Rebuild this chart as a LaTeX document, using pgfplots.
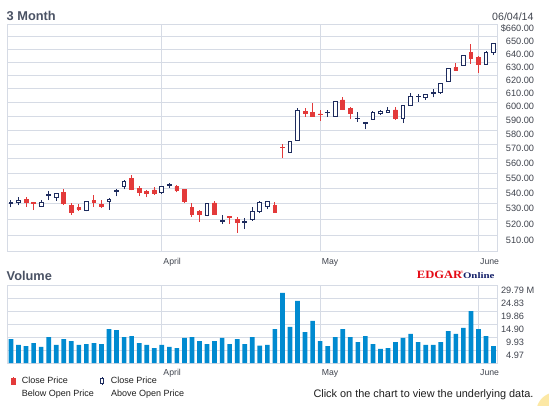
\documentclass[border=0pt]{standalone}
\usepackage{fontspec}
\setmainfont{Liberation Sans}
\newfontfamily\logofont{Liberation Serif}
\usepackage{graphicx}
\usepackage{pgfplots}
\usepackage{pgfplotstable}
\pgfplotsset{compat=1.18}

\definecolor{gridc}{RGB}{214,219,229}
\definecolor{cred}{RGB}{227,58,58}
\definecolor{cnavy}{RGB}{30,44,94}
\definecolor{vblue}{RGB}{0,138,208}
\definecolor{titlec}{RGB}{74,82,100}
\definecolor{labc}{RGB}{64,68,78}
\definecolor{txtc}{RGB}{30,30,30}
\definecolor{edgarred}{RGB}{228,10,20}
\definecolor{onlinec}{RGB}{20,32,105}
\definecolor{yellowc}{RGB}{252,232,165}

% close price below open price (red)
\pgfplotstableread{
i open high low close
2 532.8 534.4 528.1 530.8
3 531.1 531.5 526.0 530.5
7 537.4 539.6 529.2 530.6
8 528.8 530.9 523.0 524.7
9 527.7 529.9 525.8 526.7
11 532.3 536.0 528.0 531.3
12 529.9 532.5 527.3 528.7
16 546.5 549.0 538.9 539.8
17 540.0 541.5 535.1 537.5
18 538.3 538.9 534.3 536.9
19 539.2 540.8 535.9 536.7
22 541.4 542.5 537.6 538.8
23 539.8 540.0 530.6 531.8
24 528.0 530.9 521.9 523.5
25 525.2 526.1 518.7 523.4
27 530.7 532.2 523.2 523.5
29 521.9 522.2 517.2 521.7
30 520.3 521.6 511.8 518.0
35 529.1 531.1 524.5 524.8
36 568.2 570.0 560.7 567.8
39 593.7 596.0 589.5 592.3
40 592.6 599.4 589.8 590.1
41 591.6 594.8 586.4 591.2
44 601.8 604.2 594.4 595.0
45 595.3 597.0 587.7 592.3
51 594.5 596.6 587.3 588.5
59 626.0 629.5 623.8 624.0
61 638.0 644.1 628.9 633.0
62 634.0 634.9 622.3 628.8
}\downtab

% close price above open price (navy, hollow)
\pgfplotstableread{
i open high low close
0 530.6 532.6 527.8 531.2
1 530.9 534.7 529.1 532.3
4 528.5 532.6 528.3 531.0
5 535.4 538.5 532.5 536.1
6 534.5 537.3 532.0 536.6
10 525.9 532.0 525.2 531.4
13 531.9 533.7 526.3 532.6
14 538.4 540.0 535.0 539.0
15 541.5 545.5 539.6 545.0
20 537.8 541.9 536.8 541.6
21 542.4 543.5 540.3 542.6
26 522.6 530.5 522.0 530.3
28 519.0 522.8 517.1 519.6
31 518.1 521.1 514.0 519.0
32 520.0 527.8 519.2 524.9
33 525.3 532.1 524.0 531.2
34 528.3 531.8 526.5 531.7
37 564.5 572.0 564.0 571.9
38 572.8 595.7 572.6 594.1
42 592.3 594.2 589.7 592.6
43 590.1 601.0 590.0 600.9
46 588.3 593.0 586.0 588.6
47 584.5 586.0 580.5 585.3
48 587.5 593.6 587.4 592.8
49 592.0 594.2 590.8 593.7
50 592.4 597.0 592.2 593.8
52 588.6 597.5 585.0 597.4
53 597.6 607.0 597.3 604.6
54 604.5 606.2 600.5 604.7
55 603.8 606.4 602.0 606.2
56 606.4 609.6 603.8 607.0
57 607.2 614.5 606.3 614.0
58 615.8 625.8 615.3 625.5
60 627.9 636.0 627.7 635.2
63 628.5 638.7 628.3 637.5
64 637.4 645.3 636.1 644.8
}\uptab

% volume (millions)
\pgfplotstableread{
i vol
0 9.25
1 6.94
2 6.55
3 7.70
4 6.17
5 10.0
6 6.94
7 9.25
8 8.48
9 6.94
10 7.32
11 7.70
12 7.32
13 13.1
14 12.7
15 10.0
16 10.4
17 7.70
18 6.94
19 5.78
20 6.94
21 6.17
22 5.78
23 9.64
24 10.0
25 8.48
26 7.32
27 8.48
28 9.64
29 7.32
30 9.25
31 7.32
32 10.0
33 6.70
34 6.94
35 13.1
36 27.0
37 13.9
38 23.9
39 11.9
40 16.2
41 8.48
42 6.55
43 10.0
44 13.1
45 10.0
46 8.09
47 10.4
48 7.32
49 5.40
50 5.78
51 8.09
52 9.64
53 11.2
54 8.09
55 6.94
56 6.94
57 8.09
58 12.3
59 11.2
60 13.5
61 20.0
62 13.1
63 10.4
64 6.55
}\voltab

\pgfplotsset{
  panel/.style={scale only axis, width=490.7pt, xmin=-0.53, xmax=64.55, clip=true},
  pricebase/.style={panel, height=227.4pt, at={(7pt,-251.7pt)}, anchor=south west,
    ymin=6.214608, ymax=6.492240},
  framed/.style={
    axis line style={draw=gridc, line width=1pt},
    grid=major, major grid style={draw=gridc, line width=1pt},
    major tick length=0pt, tick style={draw=none},
    xtick={20,41,62}, xticklabels={April,May,June},
    xticklabel style={anchor=base west, inner sep=0pt, xshift=1.5pt,
      font=\fontsize{8.7}{10}\selectfont, text=labc},
    yticklabel pos=right,
    yticklabel style={anchor=base east, inner sep=0pt,
      font=\fontsize{9.2}{11}\selectfont, text=labc},
  },
}

\begin{document}
\begin{tikzpicture}
\useasboundingbox (0pt,0pt) rectangle (549pt,-405pt);

% ---------- price panel: grid, labels, wicks ----------
\begin{axis}[pricebase, framed,
  xticklabel style={yshift=-12.6pt},
  ytick={6.234411,6.253829,6.272877,6.291569,6.309918,6.327937,6.345636,6.363028,
         6.380123,6.396930,6.413459,6.429719,6.445720,6.461468,6.476972,6.492240},
  yticklabels={510.00,520.00,530.00,540.00,550.00,560.00,570.00,580.00,
               590.00,600.00,610.00,620.00,630.00,640.00,650.00,\$660.00},
  yticklabel style={xshift=36.6pt, yshift=-7.6pt},
]
\addplot[draw=none, forget plot,
  error bars/.cd, y dir=plus, y explicit, error mark=none,
  error bar style={draw=cred, solid, line width=1pt}]
  table[x=i, y expr={ln(\thisrow{low})}, y error expr={ln(\thisrow{high})-ln(\thisrow{low})}]{\downtab};
\addplot[draw=none, forget plot,
  error bars/.cd, y dir=plus, y explicit, error mark=none,
  error bar style={draw=cnavy, solid, line width=1pt}]
  table[x=i, y expr={ln(\thisrow{low})}, y error expr={ln(\thisrow{high})-ln(\thisrow{low})}]{\uptab};
\end{axis}

% ---------- red bodies ----------
\begin{axis}[pricebase, hide axis, ybar stacked, bar width=0.5]
\addplot[draw=none, fill=none] table[x=i, y expr={ln(\thisrow{close})}]{\downtab};
\addplot[draw=cred, fill=cred, line width=0.8pt]
  table[x=i, y expr={ln(\thisrow{open})-ln(\thisrow{close})}]{\downtab};
\end{axis}

% ---------- hollow navy bodies ----------
\begin{axis}[pricebase, hide axis, ybar stacked, bar width=0.5]
\addplot[draw=none, fill=none] table[x=i, y expr={ln(\thisrow{open})}]{\uptab};
\addplot[draw=cnavy, fill=white, line width=1pt]
  table[x=i, y expr={ln(\thisrow{close})-ln(\thisrow{open})}]{\uptab};
\end{axis}

% ---------- volume panel ----------
\begin{axis}[panel, framed, height=77.3pt, at={(7pt,-363pt)}, anchor=south west,
  ymin=0, ymax=29.79,
  xticklabel style={yshift=-12.2pt},
  ytick={4.965,9.93,14.895,19.86,24.825,29.79},
  yticklabels={4.97,9.93,14.90,19.86,24.83,29.79\rlap{\ M}},
  yticklabel style={xshift=26.6pt, yshift=-8pt},
  legend cell align=left,
  legend style={at={(axis description cs:0.00785,-0.2342)}, anchor=west,
    draw=none, fill=none, inner sep=0pt, outer sep=0pt,
    font=\fontsize{9}{10}\selectfont, text=txtc, legend columns=2,
    nodes={inner sep=0pt, anchor=west},
    /tikz/every odd column/.append style={column sep=6.6pt},
    /tikz/every even column/.append style={column sep=32pt}},
]
\addplot[ybar, bar width=0.62, fill=vblue, draw=none, forget plot]
  table[x=i, y=vol]{\voltab};
\addlegendimage{legend image code/.code={
  \path (-2.05pt,0pt) -- (2.05pt,0pt);
  \draw[cred, line width=1pt] (0pt,-4pt) -- (0pt,4pt);
  \fill[cred] (-1.7pt,-2.6pt) rectangle (1.7pt,2.6pt);}}
\addlegendentry{Close Price}
\addlegendimage{legend image code/.code={
  \draw[cnavy, line width=1pt] (0pt,-4pt) -- (0pt,4pt);
  \draw[cnavy, line width=1pt, fill=white] (-1.7pt,-2.3pt) rectangle (1.7pt,2.3pt);}}
\addlegendentry{Close Price}
\end{axis}

% ---------- texts ----------
\node[anchor=base west, inner sep=0pt, text=titlec, font=\bfseries\fontsize{12.8}{14}\selectfont]
  at (6.5pt,-20.3pt) {3 Month};
\node[anchor=base east, inner sep=0pt, text=labc, font=\fontsize{10.6}{12}\selectfont]
  at (533.7pt,-20.7pt) {06/04/14};
\node[anchor=base west, inner sep=0pt, text=titlec, font=\bfseries\fontsize{12.8}{14}\selectfont]
  at (6.5pt,-280.7pt) {Volume};
\node[anchor=base west, inner sep=0pt] at (416.7pt,-278.3pt)
  {\scalebox{1.12}[1]{\logofont\bfseries\fontsize{11.2}{12}\selectfont\color{edgarred}EDGAR}};
\node[anchor=base west, inner sep=0pt, text=edgarred, font=\logofont\fontsize{4}{4}\selectfont]
  at (460.2pt,-273.6pt) {®};
\node[anchor=base west, inner sep=0pt] at (462.8pt,-278.3pt)
  {\scalebox{1.28}[1]{\logofont\bfseries\fontsize{8.5}{10}\selectfont\color{onlinec}Online}};
\node[anchor=base west, inner sep=0pt, text=txtc, font=\fontsize{9}{10}\selectfont]
  at (21.7pt,-396.4pt) {Below Open Price};
\node[anchor=base west, inner sep=0pt, text=txtc, font=\fontsize{9}{10}\selectfont]
  at (111pt,-396.4pt) {Above Open Price};
\node[anchor=base west, inner sep=0pt, text=txtc, font=\fontsize{10.9}{12}\selectfont]
  at (313.3pt,-397.3pt) {Click on the chart to view the underlying data.};
\fill[yellowc] (556pt,-412pt) circle (19.7pt);
\end{tikzpicture}
\end{document}
